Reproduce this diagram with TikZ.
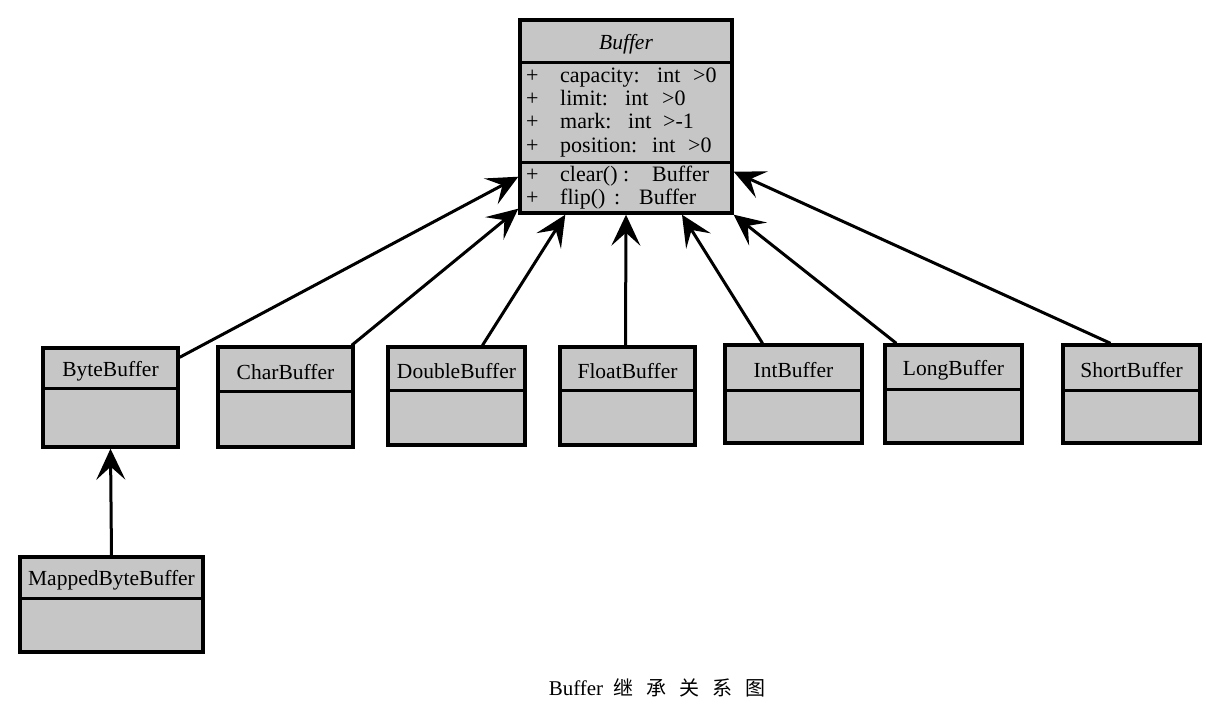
\documentclass[tikz,border=0pt]{standalone}
\usepackage{fontspec}
\setmainfont{Liberation Serif}
\newfontfamily\cjk{Noto Sans CJK SC}
\usetikzlibrary{arrows.meta,fit}
\newcommand\umlclass[7]{%
  \node[classbox,fit={(#2,#3)(#4,#5)}] (#1) {};
  \draw[divider] (#2,#6) -- (#4,#6);
  \node[ctitle] (#1-title) at ({(#2+#4)/2},{(#3+#6)/2+3}) {#7};
}
\begin{document}
\begin{tikzpicture}[x=1pt,y=-1pt,
  classbox/.style={draw=black,fill=gray!45,line width=3.4pt,inner sep=0pt},
  divider/.style={line width=3pt},
  ctitle/.style={font=\fontsize{21.5}{24}\selectfont,inner sep=0pt},
  member/.style={font=\fontsize{22}{23}\selectfont,inner sep=0pt,anchor=base west},
  inherit/.style={line width=3pt,-{Stealth[length=31pt,width=29pt,inset=13pt]}},
]
\useasboundingbox (0,0) rectangle (1220,718);

\umlclass{buf}{520}{20}{732}{213}{62}{\itshape Buffer}
\draw[divider] (520,162) -- (732,162);
\node[member] (a1) at (526,82) {\makebox[34pt][l]{+}\makebox[97pt][l]{capacity:}\makebox[36pt][l]{int}>0};
\node[member] (a2) at (526,105) {\makebox[34pt][l]{+}\makebox[65pt][l]{limit:}\makebox[37pt][l]{int}>0};
\node[member] (a3) at (526,128) {\makebox[34pt][l]{+}\makebox[68pt][l]{mark:}\makebox[35pt][l]{int}>-1};
\node[member] (a4) at (526,152) {\makebox[34pt][l]{+}\makebox[92pt][l]{position:}\makebox[36pt][l]{int}>0};
\node[member] (m1) at (526,181) {\makebox[34pt][l]{+}\makebox[63pt][l]{clear()}\makebox[29pt][l]{:}Buffer};
\node[member] (m2) at (526,204) {\makebox[34pt][l]{+}\makebox[54pt][l]{flip()}\makebox[25pt][l]{:}Buffer};

\umlclass{byte}{43}{348}{178}{447}{388}{ByteBuffer}
\umlclass{char}{218}{347}{353}{447}{391}{CharBuffer}
\umlclass{double}{388}{347}{525}{445}{390}{DoubleBuffer}
\umlclass{float}{560}{347}{695}{445}{390}{FloatBuffer}
\umlclass{int}{725}{345}{862}{443}{390}{IntBuffer}
\umlclass{long}{885}{345}{1022}{443}{389}{LongBuffer}
\umlclass{short}{1063}{345}{1200}{443}{390}{ShortBuffer}
\umlclass{mapped}{20}{557}{203}{652}{598}{MappedByteBuffer}

\draw[inherit] ([yshift=-11pt]byte.north east) -- ([yshift=38pt]buf.south west);
\draw[inherit] ([xshift=-3pt]char.north east) -- ([yshift=6pt]buf.south west);
\draw[inherit] ([xshift=26pt]double.north) -- ([xshift=47pt]buf.south west);
\draw[inherit] ([xshift=-2pt]float.north) -- (buf.south);
\draw[inherit] ([xshift=-31pt]int.north) -- ([xshift=56pt]buf.south);
\draw[inherit] ([xshift=13pt]long.north west) -- (buf.south east);
\draw[inherit] ([xshift=-21pt]short.north) -- ([yshift=43pt]buf.south east);
\draw[inherit] (mapped.north) -- (byte.south);

\node[inner sep=0pt] (caption) at (657,688) {\fontsize{21}{24}\selectfont Buffer\hspace{10pt}{\cjk\fontsize{20}{24}\selectfont 继\hspace{13pt}承\hspace{13pt}关\hspace{13pt}系\hspace{13pt}图}};
\end{tikzpicture}
\end{document}
